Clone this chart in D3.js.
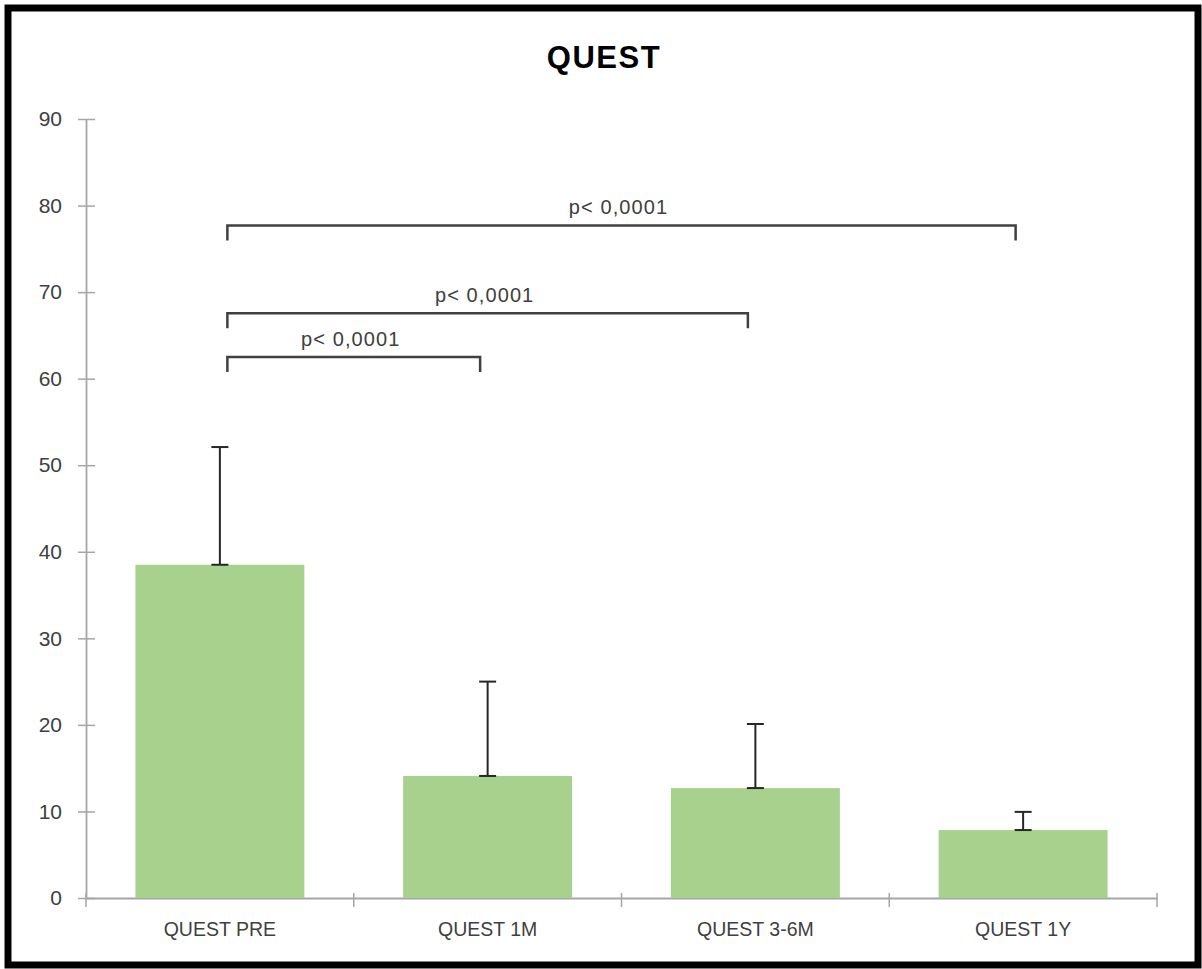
<!DOCTYPE html>
<html>
<head>
<meta charset="utf-8">
<script src="https://cdn.jsdelivr.net/npm/d3@7"></script>
<style>
  html, body { margin: 0; padding: 0; background: #fff; }
  svg { display: block; }
</style>
</head>
<body>
<svg id="chart" width="1202" height="969"></svg>
<script>
// ---- data ----
const title = "QUEST";
const categories = ["QUEST PRE", "QUEST 1M", "QUEST 3-6M", "QUEST 1Y"];
const means = [38.5, 14.1, 12.7, 7.85];
const errors = [13.6, 10.9, 7.4, 2.1];
const yTicks = [0, 10, 20, 30, 40, 50, 60, 70, 80, 90];
const bracketFrom = ["QUEST PRE", "QUEST PRE", "QUEST PRE"];
const bracketTo = ["QUEST 1Y", "QUEST 3-6M", "QUEST 1M"];
const bracketLevel = [77.7, 67.55, 62.5];
const bracketLabel = ["p< 0,0001", "p< 0,0001", "p< 0,0001"];

(function () {
// ---- layout ----
const plotLeft = 86, plotRight = 1157, plotTop = 119, plotBottom = 898;
const svg = d3.select("#chart");

// outer frame
svg.append("rect")
  .attr("x", 8).attr("y", 8).attr("width", 1190).attr("height", 957)
  .attr("fill", "#fff").attr("stroke", "#000").attr("stroke-width", 7);

const x = d3.scaleBand().domain(categories).range([plotLeft, plotRight])
  .paddingInner(0.369).paddingOuter(0.1845);
const y = d3.scaleLinear().domain([0, 90]).range([plotBottom, plotTop]);

const axisColor = "#a6a6a6";
const textColor = "#404040";
const font = "'Liberation Sans', Arial, sans-serif";

// title
svg.append("text")
  .attr("x", 604).attr("y", 68)
  .attr("text-anchor", "middle")
  .attr("font-family", font).attr("font-weight", "bold")
  .attr("font-size", 31).attr("letter-spacing", 1.5)
  .attr("fill", "#000")
  .text(title);

// y axis
const yAxis = svg.append("g").attr("transform", `translate(${plotLeft},0)`)
  .call(d3.axisLeft(y).tickValues(yTicks).tickSize(8).tickPadding(16).tickSizeOuter(0));
yAxis.select(".domain").attr("stroke", axisColor).attr("stroke-width", 1.8);
yAxis.selectAll(".tick line").attr("stroke", axisColor).attr("stroke-width", 1.5)
  .attr("x1", 9).attr("x2", -8);
yAxis.selectAll(".tick text")
  .attr("font-family", font).attr("font-size", 21).attr("fill", textColor);

// x axis
const boundaries = categories.map(c => x(c) - x.step() * x.paddingInner() / 2)
  .concat([plotRight]);
const xAxis = svg.append("g").attr("transform", `translate(0,${plotBottom})`)
  .call(d3.axisBottom(x).tickSize(0).tickPadding(24).tickSizeOuter(0));
xAxis.select(".domain").attr("stroke", axisColor).attr("stroke-width", 1.8);
xAxis.selectAll(".tick text")
  .attr("font-family", font).attr("font-size", 19.5).attr("fill", textColor);
xAxis.selectAll(".bnd").data(boundaries).join("line")
  .attr("class", "bnd")
  .attr("x1", d => d).attr("x2", d => d)
  .attr("y1", -5).attr("y2", 9)
  .attr("stroke", axisColor).attr("stroke-width", 1.5);

// bars
svg.append("g").selectAll("rect").data(categories).join("rect")
  .attr("x", d => x(d))
  .attr("y", (d, i) => y(means[i]))
  .attr("width", x.bandwidth())
  .attr("height", (d, i) => y(0) - y(means[i]))
  .attr("fill", "#a9d18e");

// error bars (upper only)
const capW = 17;
const eg = svg.append("g").attr("stroke", "#262626").attr("stroke-width", 2);
categories.forEach((c, i) => {
  const cx = x(c) + x.bandwidth() / 2;
  const y0 = y(means[i]), y1 = y(means[i] + errors[i]);
  eg.append("line").attr("x1", cx).attr("x2", cx).attr("y1", y0).attr("y2", y1);
  eg.append("line").attr("x1", cx - capW / 2).attr("x2", cx + capW / 2).attr("y1", y1).attr("y2", y1);
  eg.append("line").attr("x1", cx - capW / 2).attr("x2", cx + capW / 2).attr("y1", y0).attr("y2", y0);
});

// significance brackets
const inset = 7.5, drop = 15;
const bg = svg.append("g");
bracketLevel.forEach((lv, i) => {
  const x1 = x(bracketFrom[i]) + x.bandwidth() / 2 + inset;
  const x2 = x(bracketTo[i]) + x.bandwidth() / 2 - inset;
  const yy = y(lv);
  bg.append("path")
    .attr("d", `M${x1},${yy + drop}V${yy}H${x2}V${yy + drop}`)
    .attr("fill", "none").attr("stroke", "#404040").attr("stroke-width", 2.5);
  bg.append("text")
    .attr("x", (x1 + x2) / 2 - 3).attr("y", yy - 11)
    .attr("text-anchor", "middle")
    .attr("font-family", font).attr("font-size", 20).attr("letter-spacing", 1.1)
    .attr("fill", textColor)
    .text(bracketLabel[i]);
});
})();
</script>
</body>
</html>
